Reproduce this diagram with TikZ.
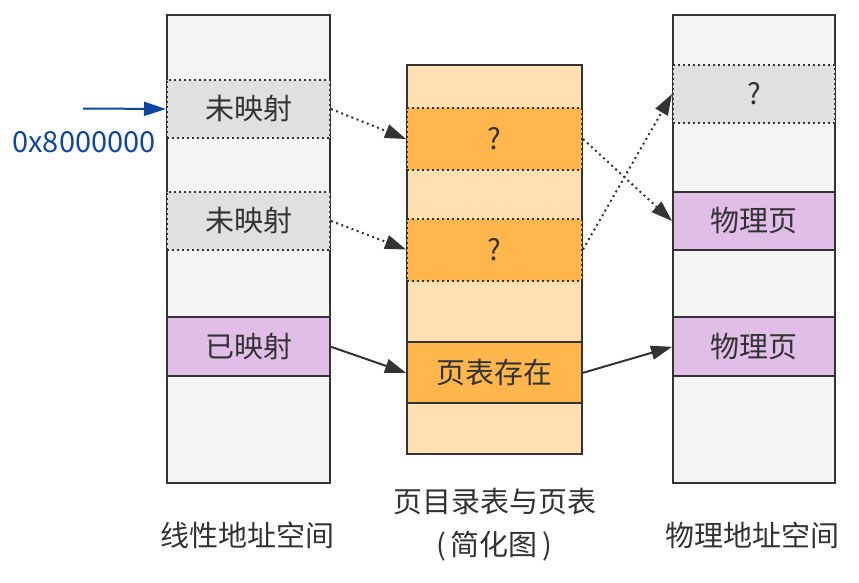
\documentclass[tikz,border=0pt]{standalone}
\usepackage{fontspec}
\setmainfont{Noto Sans CJK SC}
\usetikzlibrary{arrows.meta}
\definecolor{lineC}{HTML}{333333}
\definecolor{colGray}{HTML}{F5F5F5}
\definecolor{segGray}{HTML}{E0E0E0}
\definecolor{segPurple}{HTML}{E1BEE7}
\definecolor{colOrange}{HTML}{FFE0B2}
\definecolor{segOrange}{HTML}{FFB74D}
\definecolor{blueC}{HTML}{0D47A1}
\tikzset{
  column/.style={draw=lineC, line width=2pt, inner sep=0pt, rectangle},
  seg/.style={rectangle, inner sep=0pt, text=lineC, font=\fontsize{29}{34}\selectfont},
  segsolid/.style={seg, draw=lineC, line width=2pt},
  segdotted/.style={seg, draw=lineC, line width=2pt, dash pattern=on 2pt off 3pt},
  lbl/.style={text=lineC, font=\fontsize{29}{43}\selectfont, align=center, inner sep=0pt},
  conn/.style={draw=lineC, line width=2pt, -{Triangle[length=21pt,width=14pt]}},
  dotconn/.style={conn, dash pattern=on 2pt off 3.5pt},
}
\begin{document}
\begin{tikzpicture}[x=1pt,y=-1pt]
\useasboundingbox (0,0) rectangle (859,583);
% columns
\node[column, fill=colGray, minimum width=163pt, minimum height=468pt] (lcol) at (248.5,249) {};
\node[column, fill=colOrange, minimum width=175pt, minimum height=389pt] (mcol) at (494.5,259.5) {};
\node[column, fill=colGray, minimum width=162pt, minimum height=468pt] (rcol) at (754,249) {};
% linear address segments
\node[segdotted, fill=segGray, minimum width=163pt, minimum height=58pt] (u1) at (248.5,109) {未映射};
\node[segdotted, fill=segGray, minimum width=163pt, minimum height=58pt] (u2) at (248.5,221) {未映射};
\node[segsolid, fill=segPurple, minimum width=163pt, minimum height=59pt] (m1) at (248.5,346.8) {已映射};
% page table entries
\node[segdotted, fill=segOrange, minimum width=175pt, minimum height=62pt] (q1) at (494.5,139) {?};
\node[segdotted, fill=segOrange, minimum width=175pt, minimum height=62pt] (q2) at (494.5,249.5) {?};
\node[segsolid, fill=segOrange, minimum width=175pt, minimum height=61pt] (pt) at (494.5,372.8) {页表存在};
% physical pages
\node[segdotted, fill=segGray, minimum width=162pt, minimum height=58pt] (rq) at (754,94) {?};
\node[segsolid, fill=segPurple, minimum width=162pt, minimum height=58pt] (p1) at (754,221) {物理页};
\node[segsolid, fill=segPurple, minimum width=162pt, minimum height=59pt] (p2) at (754,346.8) {物理页};
% address pointer
\coordinate (bstart) at (83,108.5);
\draw[draw=blueC, line width=2pt, -{Triangle[length=22pt,width=14pt]}] (bstart) -- (u1.west);
\node[text=blueC, font=\fontsize{29}{34}\selectfont, inner sep=0pt] (addr) at (84,142) {0x8000000};
% connectors
\draw[dotconn] (u1.east) -- (q1.west);
\draw[dotconn] (u2.east) -- (q2.west);
\draw[dotconn] (q1.east) -- (p1.west);
\draw[dotconn] (q2.east) -- (rq.west);
\draw[conn] (m1.east) -- (pt.west);
\draw[conn] (pt.east) -- (p2.west);
% captions
\node[lbl] (lcap) at (247,535) {线性地址空间};
\node[lbl] (mcap) at (494.5,525) {页目录表与页表\\(\,简化图\,)};
\node[lbl] (rcap) at (752.5,535) {物理地址空间};
\end{tikzpicture}
\end{document}
